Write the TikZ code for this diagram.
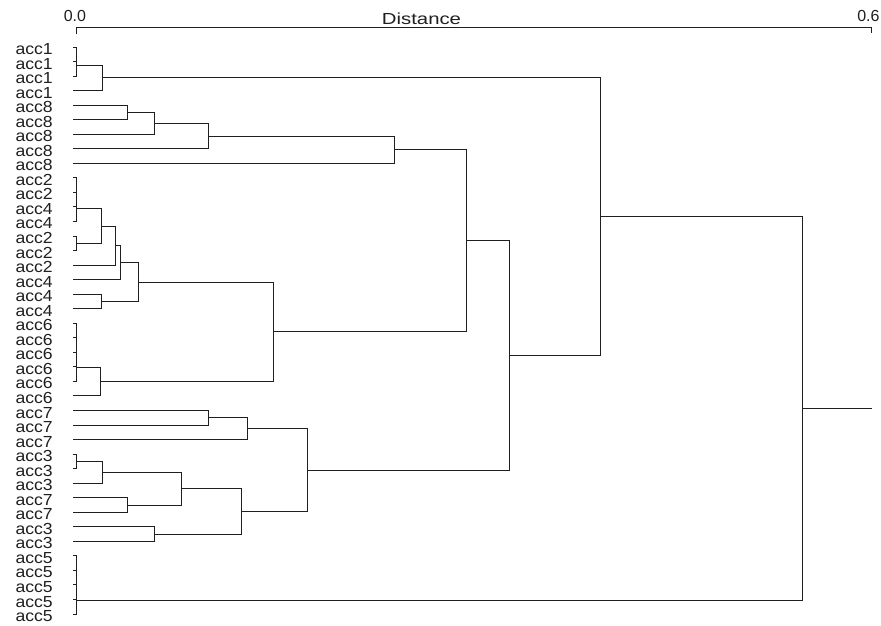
\documentclass[tikz,border=0pt]{standalone}
\usepackage{fontspec}
\setmainfont{Liberation Sans}
\usepackage{graphicx}
\usetikzlibrary{calc}
\newcommand\dendjoin[4]{%
  \path let \p1=(#2), \p2=(#3) in ({#4*0.75pt},{0.5*\y1+0.5*\y2}) coordinate (#1);
  \draw[tree] (#2) -| (#1) (#3) -| (#1);}
\begin{document}
\begin{tikzpicture}[x=0.75pt,y=-0.75pt,
  tree/.style={draw=black!88, line width=0.75pt},
  lab/.style={font=\fontsize{12}{12}\selectfont, text=black!88, inner sep=0pt, anchor=base west}]
\useasboundingbox (0,0) rectangle (881,625);
\fill[white] (0,0) rectangle (881,625);
% axis
\coordinate (ax0) at (76,27.5);
\coordinate (ax1) at (871.7,27.5);
\coordinate (tk0) at (76,34);
\coordinate (tk1) at (871.7,33);
\draw[tree] (tk0) -- (ax0) -- (ax1) -- (tk1);
\node[lab] (z0) at (63.5,21) {0.0};
\node[lab] (z6) at (857,21) {0.6};
\node[lab,anchor=base] (dist) at (421.5,24.5) {\scalebox{1.27}[1]{Distance}};
% leaves
\foreach \i/\t in {0/acc1,1/acc1,2/acc1,3/acc1,4/acc8,5/acc8,6/acc8,7/acc8,8/acc8,
  9/acc2,10/acc2,11/acc4,12/acc4,13/acc2,14/acc2,15/acc2,16/acc4,17/acc4,18/acc4,
  19/acc6,20/acc6,21/acc6,22/acc6,23/acc6,24/acc6,25/acc7,26/acc7,27/acc7,
  28/acc3,29/acc3,30/acc3,31/acc7,32/acc7,33/acc3,34/acc3,
  35/acc5,36/acc5,37/acc5,38/acc5,39/acc5}{
  \coordinate (L\i) at (73.3,{47+14.54*\i});
  \node[lab] (T\i) at (15.3,{47+14.54*\i+7.5}) {\scalebox{1.1}[1]{\t}};
}
% tree
\dendjoin{a01}{L0}{L1}{76}
\dendjoin{a02}{a01}{L2}{76}
\dendjoin{A}{a02}{L3}{102}
\dendjoin{b45}{L4}{L5}{127}
\dendjoin{b46}{b45}{L6}{154}
\dendjoin{b47}{b46}{L7}{208}
\dendjoin{B}{b47}{L8}{394}
\dendjoin{c910}{L9}{L10}{76}
\dendjoin{c911}{c910}{L11}{76}
\dendjoin{c912}{c911}{L12}{76}
\dendjoin{c1314}{L13}{L14}{76}
\dendjoin{c914}{c912}{c1314}{101.7}
\dendjoin{c915}{c914}{L15}{115}
\dendjoin{c916}{c915}{L16}{120.7}
\dendjoin{c1718}{L17}{L18}{101.7}
\dendjoin{c918}{c916}{c1718}{138.3}
\dendjoin{d1920}{L19}{L20}{76}
\dendjoin{d1921}{d1920}{L21}{76}
\dendjoin{d1922}{d1921}{L22}{76}
\dendjoin{d1923}{d1922}{L23}{76}
\dendjoin{d1924}{d1923}{L24}{100.7}
\dendjoin{C}{c918}{d1924}{273}
\dendjoin{E}{B}{C}{466.7}
\dendjoin{e2526}{L25}{L26}{208.3}
\dendjoin{e2527}{e2526}{L27}{247.3}
\dendjoin{f2829}{L28}{L29}{76}
\dendjoin{f2830}{f2829}{L30}{102.3}
\dendjoin{f3132}{L31}{L32}{127.7}
\dendjoin{f2832}{f2830}{f3132}{181.7}
\dendjoin{f3334}{L33}{L34}{154}
\dendjoin{f2834}{f2832}{f3334}{241.7}
\dendjoin{F}{e2527}{f2834}{307.7}
\dendjoin{G}{E}{F}{509.3}
\dendjoin{H}{A}{G}{600.7}
\dendjoin{g3536}{L35}{L36}{76}
\dendjoin{g3537}{g3536}{L37}{76}
\dendjoin{g3538}{g3537}{L38}{76}
\dendjoin{g3539}{g3538}{L39}{76}
\dendjoin{R}{H}{g3539}{802.3}
\draw[tree] (R) -- (R -| ax1);
\end{tikzpicture}
\end{document}
